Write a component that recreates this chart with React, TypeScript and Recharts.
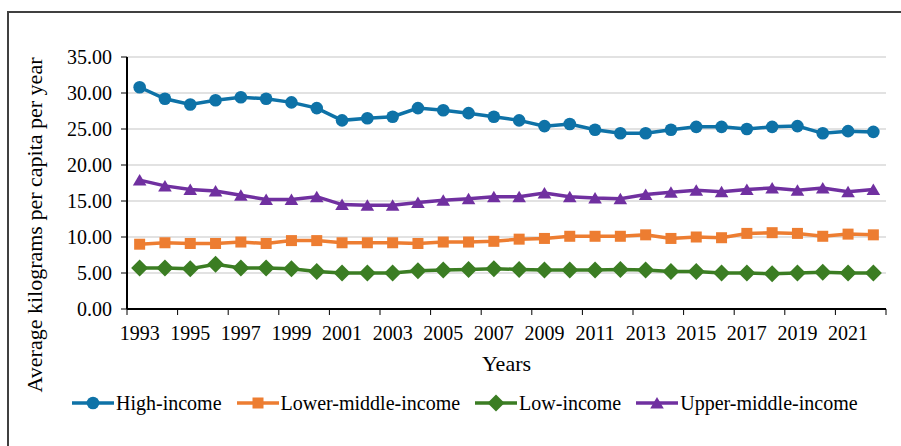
import React from 'react';
import { LineChart, Line, XAxis, YAxis, CartesianGrid, Legend } from 'recharts';

const years = [
  1993, 1994, 1995, 1996, 1997, 1998, 1999, 2000, 2001, 2002,
  2003, 2004, 2005, 2006, 2007, 2008, 2009, 2010, 2011, 2012,
  2013, 2014, 2015, 2016, 2017, 2018, 2019, 2020, 2021, 2022,
];

const highIncome = [
  30.8, 29.2, 28.4, 29.0, 29.4, 29.2, 28.7, 27.9, 26.2, 26.5,
  26.7, 27.9, 27.6, 27.2, 26.7, 26.2, 25.4, 25.7, 24.9, 24.4,
  24.4, 24.9, 25.3, 25.3, 25.0, 25.3, 25.4, 24.4, 24.7, 24.6,
];
const lowerMiddleIncome = [
  9.0, 9.2, 9.1, 9.1, 9.3, 9.1, 9.5, 9.5, 9.2, 9.2,
  9.2, 9.1, 9.3, 9.3, 9.4, 9.7, 9.8, 10.1, 10.1, 10.1,
  10.3, 9.8, 10.0, 9.9, 10.5, 10.6, 10.5, 10.1, 10.4, 10.3,
];
const lowIncome = [
  5.7, 5.7, 5.6, 6.2, 5.7, 5.7, 5.6, 5.2, 5.0, 5.0,
  5.0, 5.3, 5.4, 5.5, 5.6, 5.5, 5.4, 5.4, 5.4, 5.5,
  5.4, 5.2, 5.2, 5.0, 5.0, 4.9, 5.0, 5.1, 5.0, 5.0,
];
const upperMiddleIncome = [
  17.9, 17.1, 16.6, 16.4, 15.8, 15.2, 15.2, 15.6, 14.5, 14.4,
  14.4, 14.8, 15.1, 15.3, 15.6, 15.6, 16.1, 15.6, 15.4, 15.3,
  15.9, 16.2, 16.5, 16.3, 16.6, 16.8, 16.5, 16.8, 16.3, 16.6,
];

const yTicks = [0, 5, 10, 15, 20, 25, 30, 35];
const labelYears = [1993, 1995, 1997, 1999, 2001, 2003, 2005, 2007, 2009, 2011, 2013, 2015, 2017, 2019, 2021];

const data = years.map((year, i) => ({
  year,
  high: highIncome[i],
  lowerMiddle: lowerMiddleIncome[i],
  low: lowIncome[i],
  upperMiddle: upperMiddleIncome[i],
}));

// Excel style: tick marks sit between categories, labels on the categories
const boundaryTicks = [...labelYears.map((y) => y - 0.5), years[years.length - 1] + 0.5];
const xTicks = [...boundaryTicks, ...labelYears].sort((a, b) => a - b);

const FONT = 'Liberation Serif, DejaVu Serif, serif';

type Shape = 'circle' | 'square' | 'diamond' | 'triangle';

const series: { key: string; name: string; color: string; shape: Shape }[] = [
  { key: 'high', name: 'High-income', color: '#0E72A7', shape: 'circle' },
  { key: 'lowerMiddle', name: 'Lower-middle-income', color: '#ED7D31', shape: 'square' },
  { key: 'low', name: 'Low-income', color: '#3B7D23', shape: 'diamond' },
  { key: 'upperMiddle', name: 'Upper-middle-income', color: '#7030A0', shape: 'triangle' },
];

const Marker = ({ cx, cy, shape, color }: { cx: number; cy: number; shape: Shape; color: string }) => {
  if (cx == null || cy == null) return null;
  if (shape === 'circle') return <circle cx={cx} cy={cy} r={6.3} fill={color} />;
  if (shape === 'square') return <rect x={cx - 5.5} y={cy - 5.5} width={11} height={11} fill={color} />;
  if (shape === 'diamond') {
    const d = 8.5;
    return <polygon points={`${cx},${cy - d} ${cx + d},${cy} ${cx},${cy + d} ${cx - d},${cy}`} fill={color} />;
  }
  return <polygon points={`${cx},${cy - 6} ${cx + 6.8},${cy + 5.5} ${cx - 6.8},${cy + 5.5}`} fill={color} />;
};

const XTick = ({ x, y, payload }: any) => {
  const v = payload.value;
  if (v % 1 !== 0) {
    return <line x1={x} y1={y} x2={x} y2={y + 6} stroke="#000" strokeWidth={1} />;
  }
  return (
    <text x={x} y={y + 31} textAnchor="middle" fill="#000" style={{ fontSize: 20, fontFamily: FONT }}>
      {v}
    </text>
  );
};

const XTitle = () => (
  <text x={506.5} y={371} textAnchor="middle" fill="#000" style={{ fontSize: 22, fontFamily: FONT }}>
    Years
  </text>
);

const YTitle = () => (
  <text
    x={42}
    y={225}
    transform="rotate(-90, 42, 225)"
    textAnchor="middle"
    fill="#000"
    style={{ fontSize: 22, fontFamily: FONT }}
  >
    Average kilograms per capita per year
  </text>
);

const LegendContent = () => (
  <div style={{ display: 'flex', alignItems: 'center', height: 24, paddingLeft: 72, fontFamily: FONT, fontSize: 20, color: '#000' }}>
    {series.map((s) => (
      <div key={s.key} style={{ display: 'flex', alignItems: 'center', marginRight: 15 }}>
        <svg width={42} height={24}>
          <line x1={0} y1={12} x2={42} y2={12} stroke={s.color} strokeWidth={3.5} />
          <Marker cx={21} cy={12} shape={s.shape} color={s.color} />
        </svg>
        <span style={{ marginLeft: 2, lineHeight: '24px', whiteSpace: 'nowrap' }}>{s.name}</span>
      </div>
    ))}
  </div>
);

export default function App() {
  return (
    <div style={{ position: 'fixed', left: 0, top: 0, width: 901, height: 446, overflow: 'hidden', background: '#fff', fontFamily: FONT }}>
      <div
        style={{
          position: 'absolute',
          left: 7,
          top: 11,
          width: 1000,
          height: 1000,
          border: '2px solid #404040',
          boxSizing: 'border-box',
        }}
      />
      <div style={{ position: 'absolute', left: 0, top: 0 }}>
        <LineChart width={901} height={446} data={data} margin={{ top: 57, right: 15, left: 0, bottom: 31 }}>
          <CartesianGrid vertical={false} stroke="#D9D9D9" strokeWidth={1.5} />
          <XAxis
            dataKey="year"
            type="number"
            domain={[years[0] - 0.5, years[years.length - 1] + 0.5]}
            ticks={xTicks}
            interval={0}
            tick={<XTick />}
            tickLine={false}
            tickSize={0}
            tickMargin={0}
            height={82}
            axisLine={{ stroke: '#000', strokeWidth: 2 }}
            label={<XTitle />}
          />
          <YAxis
            width={127}
            domain={[0, 35]}
            ticks={yTicks}
            interval={0}
            tickFormatter={(v: number) => v.toFixed(2)}
            tick={{ fill: '#000', fontSize: 20, fontFamily: FONT, style: { fontFamily: FONT } }}
            tickLine={{ stroke: '#000', strokeWidth: 1 }}
            tickSize={6}
            tickMargin={9}
            axisLine={{ stroke: '#000', strokeWidth: 2 }}
            label={<YTitle />}
          />
          <Legend
            verticalAlign="bottom"
            content={<LegendContent />}
            wrapperStyle={{ left: 0, width: 901 }}
          />
          {series.map((s) => (
            <Line
              key={s.key}
              dataKey={s.key}
              name={s.name}
              stroke={s.color}
              strokeWidth={3.5}
              isAnimationActive={false}
              dot={(p: any) => <Marker key={`${s.key}-${p.index}`} cx={p.cx} cy={p.cy} shape={s.shape} color={s.color} />}
              activeDot={false}
            />
          ))}
        </LineChart>
      </div>
    </div>
  );
}
